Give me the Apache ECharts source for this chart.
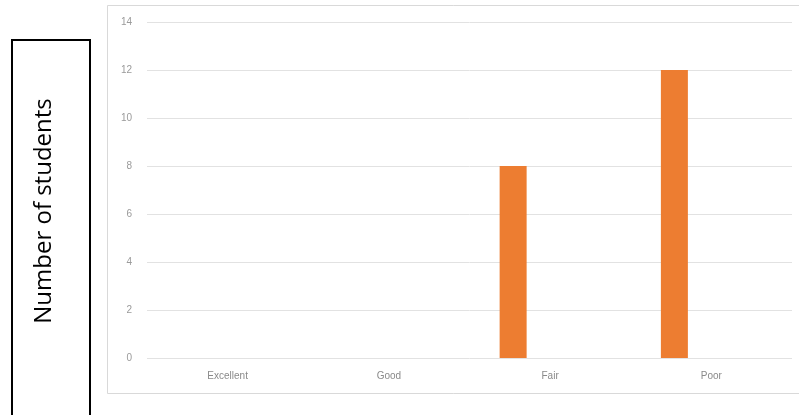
<!DOCTYPE html>
<html>
<head>
<meta charset="utf-8">
<script src="https://cdn.jsdelivr.net/npm/echarts@6/dist/echarts.min.js"></script>
<style>
html,body{margin:0;padding:0;background:#fff;}
#chart{width:799px;height:415px;}
</style>
</head>
<body>
<div id="chart"></div>
<script>
var categories = ['Excellent', 'Good', 'Fair', 'Poor'];
var studentCounts = [0, 0, 8, 12];
var yTicks = [0, 2, 4, 6, 8, 10, 12, 14];
var yAxisTitle = 'Number of students';

var chart = echarts.init(document.getElementById('chart'), null, {renderer: 'canvas'});
chart.setOption({
  animation: false,
  backgroundColor: '#ffffff',
  grid: {left: 147, right: 7, top: 22, bottom: 57, containLabel: false},
  xAxis: {
    type: 'category',
    data: categories,
    axisLine: {show: false},
    axisTick: {show: false},
    axisLabel: {color: '#8a8a8a', fontSize: 10, fontFamily: 'Liberation Sans', margin: 13}
  },
  yAxis: {
    type: 'value',
    min: yTicks[0],
    max: yTicks[yTicks.length - 1],
    interval: 2,
    axisLine: {show: false},
    axisTick: {show: false},
    axisLabel: {color: '#9a9a9a', fontSize: 10, fontFamily: 'Liberation Sans', margin: 15},
    splitLine: {lineStyle: {color: '#e2e2e2', width: 1}}
  },
  series: [
    {
      type: 'bar',
      data: studentCounts,
      barWidth: 27,
      barGap: '174%',
      itemStyle: {color: '#ED7D31'}
    },
    {
      type: 'bar',
      data: [null, null, null, null],
      barWidth: 27,
      itemStyle: {color: 'transparent'}
    }
  ],
  graphic: [
    {
      type: 'rect',
      shape: {x: 107.5, y: 5.5, width: 700, height: 388},
      style: {fill: 'none', stroke: '#d9d9d9', lineWidth: 1},
      silent: true
    },
    {
      type: 'rect',
      shape: {x: 12, y: 40, width: 78, height: 400},
      style: {fill: 'none', stroke: '#000000', lineWidth: 2},
      silent: true
    },
    {
      type: 'text',
      x: 44,
      y: 211,
      rotation: Math.PI / 2,
      style: {
        text: yAxisTitle,
        fill: '#000000',
        fontSize: 24,
        fontFamily: 'Open Sans',
        align: 'center',
        verticalAlign: 'middle'
      }
    }
  ]
});
</script>
</body>
</html>
